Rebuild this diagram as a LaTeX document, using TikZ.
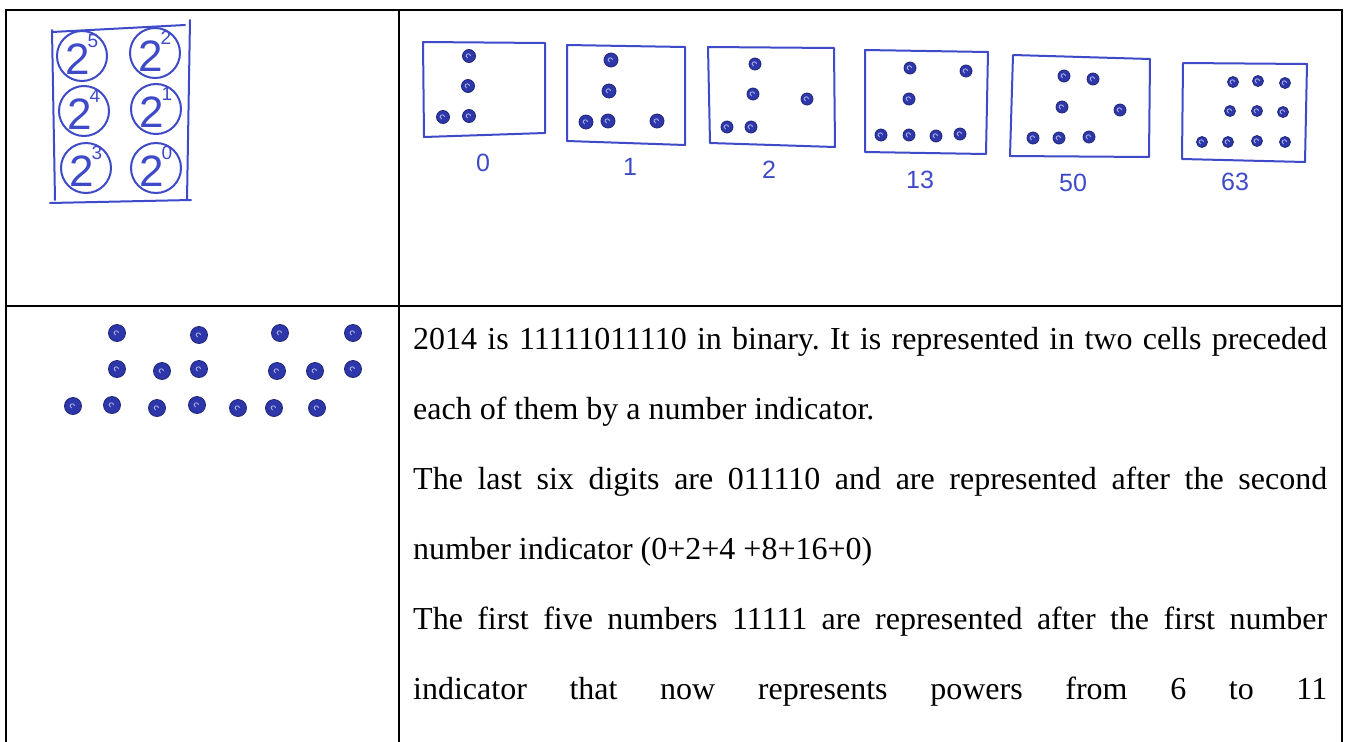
\documentclass[tikz,border=0pt]{standalone}
\usepackage{fontspec}
\setmainfont{Liberation Serif}
\newfontfamily\handfont{Liberation Sans}
\definecolor{pen}{RGB}{62,74,200}
\definecolor{ink}{RGB}{45,55,170}
\frenchspacing
\begin{document}
\begin{tikzpicture}[x=1pt,y=-1pt,
  rule/.style={line width=2.6pt, black},
  sketch/.style={draw=pen, line width=2pt, line cap=round, line join=round},
  pdot/.style={circle, fill=ink, draw=ink!70!black, line width=0.8pt, minimum size=13pt, inner sep=0pt,
    path picture={\draw[white!55!pen, line width=0.9pt] (path picture bounding box.center) ++(1.5pt,0) arc[start angle=0, end angle=250, radius=2.2pt];}},
  sdot/.style={pdot, minimum size=11pt},
  bdot/.style={pdot, minimum size=17pt},
  powc/.style={circle, draw=pen, line width=2pt, minimum size=50pt, inner sep=0pt},
  base/.style={text=pen, inner sep=0pt, font=\handfont\fontsize{44}{44}\selectfont},
  expo/.style={text=pen, inner sep=0pt, font=\handfont\fontsize{19}{19}\selectfont},
  lab/.style={text=pen, inner sep=0pt, font=\handfont\fontsize{25}{25}\selectfont},
  txt/.style={anchor=base west, inner sep=0pt, font=\fontsize{32}{38}\selectfont}
]
\useasboundingbox (0,0) rectangle (1345,742);
\fill[white] (0,0) rectangle (1345,742);

% table rules
\draw[rule] (6,742) -- (6,10) -- (1342,10) -- (1342,742);
\draw[rule] (399,10) -- (399,742);
\draw[rule] (6,306) -- (1342,306);

% ---- powers of two indicator ----
\draw[sketch] (52,32) -- (185,25);
\draw[sketch] (190,20) -- (187,200);
\draw[sketch] (50,203) -- (191,200);
\draw[sketch] (52,30) -- (55,200);
\foreach \n/\x/\y/\e in {p5/82/56/5, p2/155/53/2, p4/84/111/4, p1/156/109/1, p3/86/168/3, p0/156/168/0}{
  \node[powc] (\n) at (\x,\y) {};
  \node[base] (\n b) at ([xshift=-4pt,yshift=-3pt]\n.center) {2};
  \node[expo] (\n e) at ([xshift=11pt,yshift=15pt]\n.center) {\e};
}

% ---- example cells ----
% 0
\draw[sketch] (423,42) -- (545,43) -- (545,133) -- (424,137) -- cycle;
\foreach \n/\x/\y in {a1/469/56, a2/468/86, a3/443/117, a4/469/116}
  \node[pdot] (\n) at (\x,\y) {};
\node[lab] (l0) at (483,163) {0};
% 1
\draw[sketch] (567,45) -- (685,47) -- (685,145) -- (567,141) -- cycle;
\foreach \n/\x/\y in {b1/611/60, b2/609/91, b3/586/122, b4/608/121, b5/657/121}
  \node[pdot, minimum size=14pt] (\n) at (\x,\y) {};
\node[lab] (l1) at (630,167) {1};
% 2
\draw[sketch] (708,47) -- (834,48) -- (835,147) -- (710,143) -- cycle;
\foreach \n/\x/\y in {c1/755/64, c2/753/94, c3/807/99, c4/727/127, c5/751/127}
  \node[pdot, minimum size=12pt] (\n) at (\x,\y) {};
\node[lab] (l2) at (769,170) {2};
% 13
\draw[sketch] (865,50) -- (988,52) -- (986,154) -- (865,152) -- cycle;
\foreach \n/\x/\y in {d1/910/68, d2/966/71, d3/909/99, d4/881/135, d5/909/135, d6/936/136, d7/960/134}
  \node[pdot, minimum size=12pt] (\n) at (\x,\y) {};
\node[lab] (l13) at (920,180) {13};
% 50
\draw[sketch] (1013,55) -- (1150,59) -- (1149,157) -- (1010,156) -- cycle;
\foreach \n/\x/\y in {e1/1064/76, e2/1093/79, e3/1062/107, e4/1120/110, e5/1033/138, e6/1059/138, e7/1089/137}
  \node[pdot, minimum size=12pt] (\n) at (\x,\y) {};
\node[lab] (l50) at (1073,183) {50};
% 63
\draw[sketch] (1183,63) -- (1307,64) -- (1305,162) -- (1182,159) -- cycle;
\foreach \n/\x/\y in {f1/1233/82, f2/1258/81, f3/1285/83, f4/1230/111, f5/1257/111, f6/1283/112, f7/1202/142, f8/1228/142, f9/1257/141, f10/1285/142}
  \node[sdot] (\n) at (\x,\y) {};
\node[lab] (l63) at (1235,182) {63};

% ---- 2014 in dots ----
\foreach \n/\x/\y in {g1/117/333, g2/199/335, g3/280/333, g4/353/333,
  g5/117/369, g6/162/371, g7/199/369, g8/277/371, g9/315/371, g10/353/369,
  g11/73/406, g12/112/405, g13/157/408, g14/197/405, g15/238/408, g16/274/408, g17/317/408}
  \node[bdot] (\n) at (\x,\y) {};

% ---- text ----
\node[txt] (t1) at (413,349) {\makebox[914pt][s]{2014 is 11111011110 in binary. It is represented in two cells preceded}};
\node[txt] (t2) at (413,419) {each of them by a number indicator.};
\node[txt] (t3) at (413,489) {\makebox[914pt][s]{The last six digits are 011110 and are represented after the second}};
\node[txt] (t4) at (413,559) {number indicator (0+2+4 +8+16+0)};
\node[txt] (t5) at (413,629) {\makebox[914pt][s]{The first five numbers 11111 are represented after the first number}};
\node[txt] (t6) at (413,699) {\makebox[914pt][s]{indicator that now represents powers from 6 to 11}};
\end{tikzpicture}
\end{document}
